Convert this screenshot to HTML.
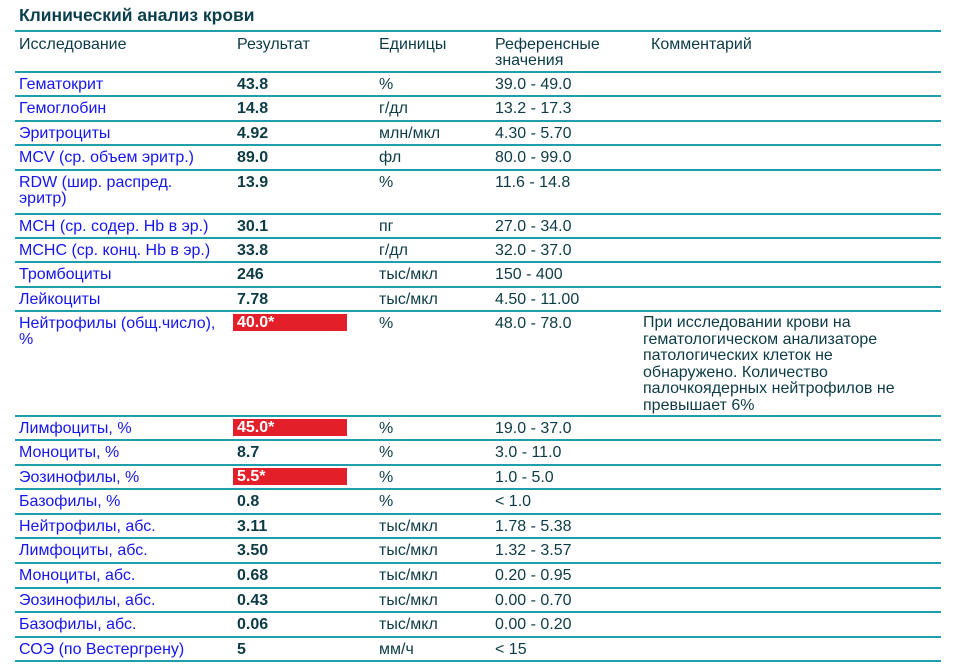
<!DOCTYPE html><html><head><meta charset="utf-8"><style>
body{margin:0;background:#fff;width:958px;height:668px;position:relative;overflow:hidden;font-family:"Liberation Sans","DejaVu Sans",sans-serif;font-size:16px;color:#0d3b45}
.t{position:absolute;left:19px;top:5px;font-weight:bold;font-size:17.5px;color:#0b3f4c}
.l{position:absolute;left:15px;width:926px;height:2px;background:#1f9fae}
.c{position:absolute;white-space:nowrap;line-height:16px}
.n{color:#1515f0}
.b{font-weight:bold}
.r{position:absolute;left:233px;width:114px;height:17px;background:#e3202a;color:#fff;font-weight:bold;padding-left:4px;box-sizing:border-box;line-height:17px}
</style></head><body>
<div class="t">Клинический анализ крови</div>
<div class="l" style="top:30px"></div>
<div class="c" style="left:19px;top:37px">Исследование</div>
<div class="c" style="left:237px;top:37px">Результат</div>
<div class="c" style="left:379px;top:37px">Единицы</div>
<div class="c" style="left:495px;top:37px">Референсные<br>значения</div>
<div class="c" style="left:651px;top:37px">Комментарий</div>
<div id="rows"></div>
<script>
var rows=[
["Гематокрит","43.8","%","39.0 - 49.0",72],
["Гемоглобин","14.8","г/дл","13.2 - 17.3",96],
["Эритроциты","4.92","млн/мкл","4.30 - 5.70",121],
["MCV (ср. объем эритр.)","89.0","фл","80.0 - 99.0",145],
["RDW (шир. распред.<br>эритр)","13.9","%","11.6 - 14.8",170],
["MCH (ср. содер. Hb в эр.)","30.1","пг","27.0 - 34.0",214],
["MCHC (ср. конц. Hb в эр.)","33.8","г/дл","32.0 - 37.0",238],
["Тромбоциты","246","тыс/мкл","150 - 400",262],
["Лейкоциты","7.78","тыс/мкл","4.50 - 11.00",287],
["Нейтрофилы (общ.число),<br>%","!40.0*","%","48.0 - 78.0",311],
["Лимфоциты, %","!45.0*","%","19.0 - 37.0",416],
["Моноциты, %","8.7","%","3.0 - 11.0",440],
["Эозинофилы, %","!5.5*","%","1.0 - 5.0",465],
["Базофилы, %","0.8","%","&lt; 1.0",489],
["Нейтрофилы, абс.","3.11","тыс/мкл","1.78 - 5.38",514],
["Лимфоциты, абс.","3.50","тыс/мкл","1.32 - 3.57",538],
["Моноциты, абс.","0.68","тыс/мкл","0.20 - 0.95",563],
["Эозинофилы, абс.","0.43","тыс/мкл","0.00 - 0.70",588],
["Базофилы, абс.","0.06","тыс/мкл","0.00 - 0.20",612],
["СОЭ (по Вестергрену)","5","мм/ч","&lt; 15",637]];
var h='';
rows.forEach(function(r){var y=r[4];h+='<div class="l" style="top:'+(y-1)+'px"></div>';
var ty=y+5;
h+='<div class="c n" style="left:19px;top:'+ty+'px">'+r[0]+'</div>';
if(r[1][0]=='!')h+='<div class="r" style="top:'+(y+3)+'px">'+r[1].slice(1)+'</div>';
else h+='<div class="c b" style="left:237px;top:'+ty+'px">'+r[1]+'</div>';
h+='<div class="c" style="left:379px;top:'+ty+'px">'+r[2]+'</div>';
h+='<div class="c" style="left:495px;top:'+ty+'px">'+r[3]+'</div>';});
h+='<div class="l" style="top:660px"></div>';
h+='<div class="c" style="left:643px;top:315px;line-height:16.5px">При исследовании крови на<br>гематологическом анализаторе<br>патологических клеток не<br>обнаружено. Количество<br>палочкоядерных нейтрофилов не<br>превышает 6%</div>';
document.getElementById('rows').innerHTML=h;
</script>
</body></html>
